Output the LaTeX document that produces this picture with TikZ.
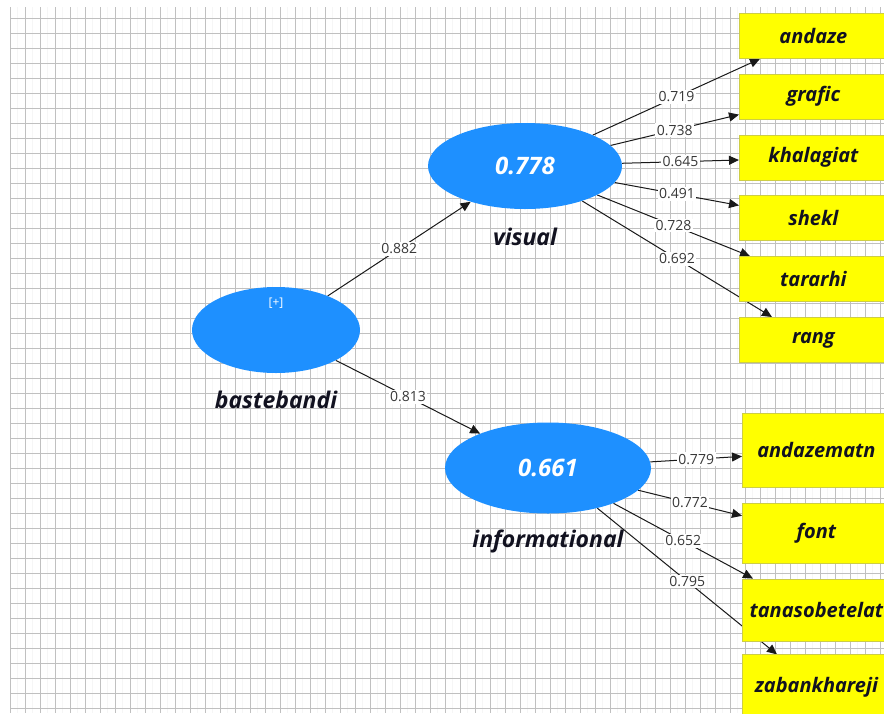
\documentclass[tikz,border=0pt]{standalone}
\usepackage{fontspec}
\setmainfont{Open Sans}
\usetikzlibrary{shapes.geometric, arrows.meta, positioning}
\pgfdeclarelayer{grid}
\pgfdeclarelayer{edges}
\pgfsetlayers{grid,edges,main}

\definecolor{lvblue}{RGB}{30,144,255}
\definecolor{mvyellow}{RGB}{255,255,0}
\definecolor{mvedge}{RGB}{205,205,70}
\definecolor{gridgray}{RGB}{192,192,192}
\definecolor{txtnavy}{RGB}{18,18,32}

\begin{document}
\begin{tikzpicture}[x=1pt, y=-1pt,
    latent/.style={ellipse, fill=lvblue, draw=none, text=white, inner sep=0pt,
        font=\fontsize{24}{24}\selectfont\bfseries\itshape},
    lvname/.style={font=\fontsize{23}{23}\selectfont\bfseries\itshape, text=txtnavy},
    indicator/.style={rectangle, fill=mvyellow, draw=mvedge, line width=0.8pt,
        minimum width=148pt, anchor=north west, text=txtnavy,
        font=\fontsize{20}{20}\selectfont\bfseries\itshape},
    load/.style={draw=black!90, line width=1pt, -{Triangle[length=10pt, width=9pt]}},
    wt/.style={fill=white, inner sep=1.5pt, text=black!78,
        font=\fontsize{14}{14}\selectfont},
    gridline/.style={draw=gridgray, line width=1pt},
    subline/.style={draw=gridgray!14, line width=0.5pt}]
    \useasboundingbox (0,0) rectangle (884,713);
    % background grid
    \begin{pgfonlayer}{grid}
        \fill[white] (0,0) rectangle (884,713);
        \foreach \gx in {17.5,32.5,...,884} \draw[subline] (\gx,7) -- (\gx,713);
        \foreach \gx in {10,25,...,884} \draw[gridline] (\gx,7) -- (\gx,713);
        \foreach \gy in {18,33,...,713} \draw[gridline] (10,\gy) -- (884,\gy);
    \end{pgfonlayer}

    % latent variables
    \node [latent, minimum width=168pt, minimum height=86pt] (bastebandi) at (276,330) {};
    \node [text=white, font=\fontsize{12}{12}\selectfont, below=8pt of bastebandi.north] (expand) {[+]};
    \node [latent, minimum width=194pt, minimum height=86pt] (visual) at (525,166) {0.778};
    \node [latent, minimum width=206pt, minimum height=91pt] (informational) at (548,468) {0.661};
    \node [lvname, below=14pt of bastebandi] (bastebandiname) {bastebandi};
    \node [lvname, below=15pt of visual] (visualname) {visual};
    \node [lvname, below=13pt of informational] (informationalname) {informational};

    % indicators
    \node [indicator, minimum height=45pt] (andaze) at (739,13) {andaze};
    \node [indicator, minimum height=45pt, below=15pt of andaze] (grafic) {grafic};
    \node [indicator, minimum height=45pt, below=15pt of grafic] (khalagiat) {khalagiat};
    \node [indicator, minimum height=45pt, below=15pt of khalagiat] (shekl) {shekl};
    \node [indicator, minimum height=45pt, below=15pt of shekl] (tararhi) {tararhi};
    \node [indicator, minimum height=45pt, below=15pt of tararhi] (rang) {rang};

    \node [indicator, minimum height=74pt] (andazematn) at (742,413) {andazematn};
    \node [indicator, minimum height=60pt, below=15pt of andazematn] (font) {font};
    \node [indicator, minimum height=62pt, below=15pt of font] (tanasobetelat) {tanasobetelat};
    \node [indicator, minimum height=64pt, below=13pt of tanasobetelat] (zabankhareji) {zabankhareji};

    % paths with coefficients
    \begin{pgfonlayer}{edges}
        \draw [load] (bastebandi) -- node [wt] {0.882} (visual);
        \draw [load] (bastebandi) -- node [wt] {0.813} (informational);

        \draw [load] (visual) -- node [wt] {0.719} ([xshift=21pt]andaze.south west);
        \draw [load] (visual) -- node [wt] {0.738} ([yshift=5pt]grafic.south west);
        \draw [load] (visual) -- node [wt] {0.645} ([yshift=-2.5pt]khalagiat.west);
        \draw [load] (visual) -- node [wt] {0.491} ([yshift=-10pt]shekl.north west);
        \draw [load] (visual) -- node [wt] {0.728} ([xshift=11pt]tararhi.north west);
        \draw [load] (visual) -- node [wt] {0.692} ([xshift=33pt]rang.north west);

        \draw [load] (informational) -- node [wt] {0.779} ([yshift=-6pt]andazematn.west);
        \draw [load] (informational) -- node [wt] {0.772} ([yshift=-13pt]font.north west);
        \draw [load] (informational) -- node [wt] {0.652} ([xshift=11pt]tanasobetelat.north west);
        \draw [load] (informational) -- node [wt] {0.795} ([xshift=35pt]zabankhareji.north west);
    \end{pgfonlayer}
\end{tikzpicture}
\end{document}
